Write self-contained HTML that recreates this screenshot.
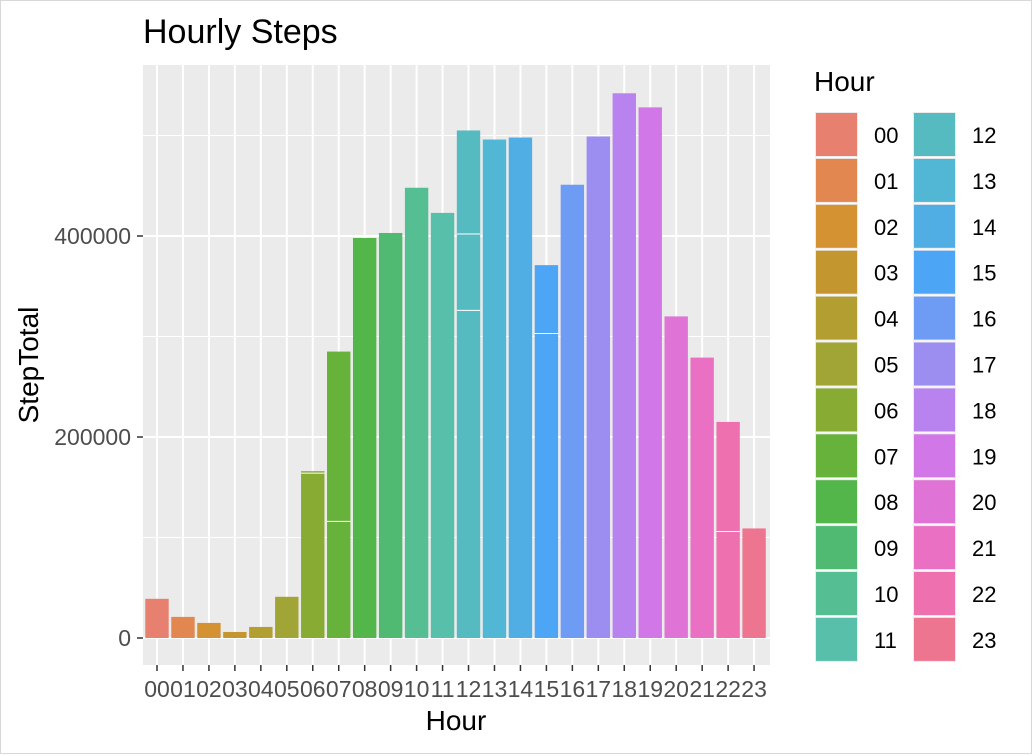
<!DOCTYPE html>
<html><head><meta charset="utf-8"><style>
body{margin:0;background:#fff;}
svg{display:block;font-family:"Liberation Sans",sans-serif;}
</style></head><body>
<svg id="chart" width="1034" height="756">
<rect x="0.5" y="0.5" width="1031" height="753" fill="#fff" stroke="#d8d8d8"/>
<text x="143" y="43" font-size="34" fill="#000">Hourly Steps</text>
<rect x="143" y="65" width="627" height="600" fill="#EBEBEB"/>
<g id="grid"></g><g id="bars"></g><g id="axes"></g><g id="legend"></g>
<text x="456" y="730" font-size="28" text-anchor="middle" fill="#000">Hour</text>
<text transform="translate(38,365) rotate(-90)" font-size="28" text-anchor="middle" fill="#000">StepTotal</text>
</svg>
<script>
const categories=["00","01","02","03","04","05","06","07","08","09","10","11","12","13","14","15","16","17","18","19","20","21","22","23"];
const steps=[39000,21000,15000,6000,11000,41000,166000,285000,398000,403000,448000,423000,505000,496000,498000,371000,451000,499000,542000,528000,320000,279000,215000,109000];
const splits=[[],[],[],[],[],[],[164000],[116000],[],[],[],[],[402000,326000],[],[],[303000],[],[],[],[],[],[],[106000],[]];
const colors=["#E8806F","#E2874F","#D49232","#C4962F","#B39E32","#A0A535","#88AB34","#67B23A","#52B64A","#50BA72","#55BE92","#57BFAA","#55BBC1","#52B7D5","#50AEE5","#4CA6F5","#6E9CF5","#9B8EF0","#B883EF","#D177E8","#DF74D6","#EA70C4","#EF70AE","#EE7590"];
const yTicks=[0,200000,400000];
const yMinor=[100000,300000,500000];
const NS="http://www.w3.org/2000/svg";
function mk(t,a,p){const e=document.createElementNS(NS,t);for(const k in a)e.setAttribute(k,a[k]);p.appendChild(e);return e;}
const y=v=>638-v*201/200000;
const x=i=>157+i*25.96;
const bw=23.4;
const grid=document.getElementById('grid'),bars=document.getElementById('bars'),axes=document.getElementById('axes'),leg=document.getElementById('legend');
yMinor.forEach(v=>{const l=mk('line',{x1:143,x2:770,y1:y(v),y2:y(v),stroke:'#fff','stroke-width':1},grid);

});
yTicks.forEach(v=>{const l=mk('line',{x1:143,x2:770,y1:y(v),y2:y(v),stroke:'#fff','stroke-width':2},grid);


const tk=mk('line',{x1:137,x2:143,y1:y(v),y2:y(v),stroke:'#333','stroke-width':1.5},axes);


const t=mk('text',{x:131,y:y(v)+8,'font-size':23,'text-anchor':'end',fill:'#4D4D4D'},axes);t.textContent=v;

});
categories.forEach((c,i)=>{const gl=mk('line',{x1:x(i),x2:x(i),y1:65,y2:665,stroke:'#fff','stroke-width':2},grid);


const r=mk('rect',{x:x(i)-bw/2,y:y(steps[i]),width:bw,height:y(0)-y(steps[i]),fill:colors[i]},bars);


splits[i].forEach(s=>{const sl=mk('line',{x1:x(i)-bw/2,x2:x(i)+bw/2,y1:y(s),y2:y(s),stroke:'#fff','stroke-width':1},bars);

});
const tk=mk('line',{x1:x(i),x2:x(i),y1:665,y2:671,stroke:'#333','stroke-width':1.5},axes);


const t=mk('text',{x:x(i),y:697,'font-size':23,'text-anchor':'middle',fill:'#4D4D4D'},axes);t.textContent=c;


const col=i<12?0:1,row=i%12;const kx=815+col*98,ky=112+row*45.9;
const k=mk('rect',{x:kx,y:ky,width:43,height:45,fill:'#EBEBEB'},leg);


const k2=mk('rect',{x:kx+1,y:ky+1,width:41,height:43,fill:colors[i]},leg);


const lt=mk('text',{x:kx+59,y:ky+31,'font-size':22,fill:'#000'},leg);lt.textContent=c;

});
const lt=mk('text',{x:814,y:91,'font-size':28,fill:'#000'},leg);lt.textContent='Hour';


</script>
</body></html>
